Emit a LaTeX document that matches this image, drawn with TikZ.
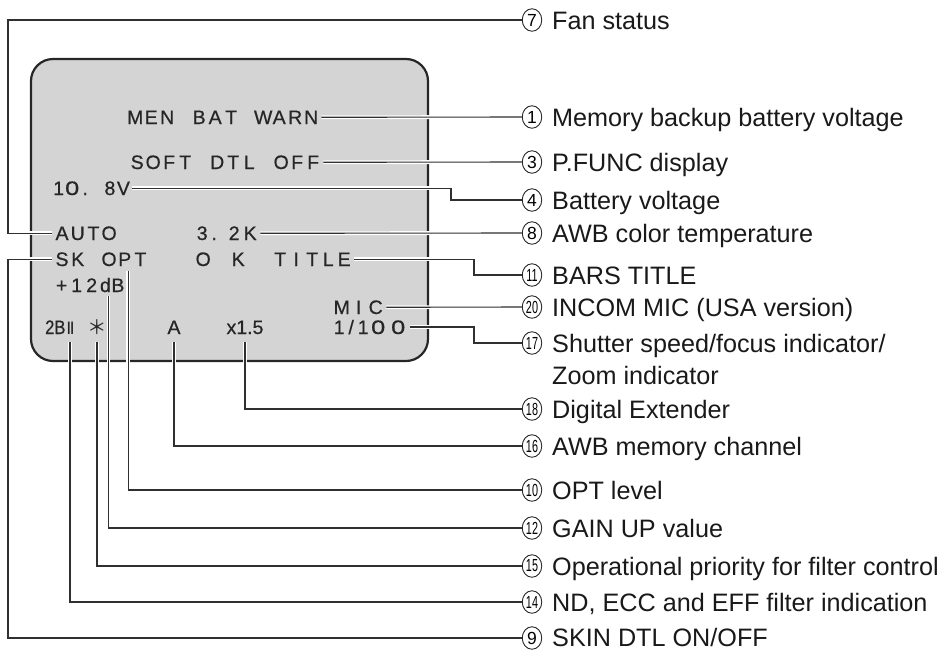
\documentclass[tikz,border=0pt]{standalone}
\usepackage{fontspec}
\setmainfont{Liberation Sans}
\newfontfamily\scrfont[FakeBold=0.6]{Liberation Sans}
\newfontfamily\cjkfont{Noto Sans CJK JP}
\newfontfamily\djfont{DejaVu Sans}
\usetikzlibrary{shapes.geometric}
\ExplSyntaxOn
\NewDocumentCommand\gridtxt{O{16pt}m}{\str_map_inline:nn{#2}{\makebox[#1][c]{##1}}}
\ExplSyntaxOff
\newcommand\wz{\scalebox{1.3}[1]{0}}
\newcommand\cnum[1]{\scalebox{0.62}[1]{#1}}
\definecolor{scr}{HTML}{D4D4D4}
\definecolor{ln}{HTML}{303030}
\tikzset{
 lead/.style={draw=ln, line width=1.1pt, preaction={draw=white, line width=3.8pt}},
 stx/.style={inner xsep=2pt, inner ysep=0pt, anchor=base west, font=\scrfont\fontsize{19.5}{19.5}\selectfont, text=black!85},
 num/.style={ellipse, draw=black!85, line width=0.9pt, minimum width=19.5pt, minimum height=22.5pt, inner sep=0pt, font=\fontsize{17.5}{17.5}\selectfont},
 lbl/.style={anchor=base west, inner sep=0pt, font=\fontsize{25.2}{32}\selectfont, text=black!90},
}
\begin{document}
\begin{tikzpicture}[x=1pt,y=-1pt]
\useasboundingbox (0,0) rectangle (942,651);
% screen
\draw[draw=black!85, line width=2.2pt, fill=scr, rounded corners=22pt] (31,59) rectangle (428,361);
% screen texts
\node[stx] (men) at (125,124) {\gridtxt{MEN BAT WARN}};
\node[stx] (soft) at (127,169) {\gridtxt{SOFT DTL OFF}};
\node[stx] (bv) at (50,195) {\gridtxt[13pt]{1}\makebox[14pt]{\wz}\gridtxt[12pt]{. }\gridtxt[13.5pt]{8V}};
\node[stx] (auto) at (52,240) {\gridtxt[15.7pt]{AUTO}};
\node[stx] (ct) at (192,240) {\gridtxt{3}\gridtxt[8pt]{. }\gridtxt{2K}};
\node[stx] (sk) at (52,266) {\gridtxt[15.7pt]{SK}};
\node[stx] (opt) at (99,266) {\gridtxt[15.7pt]{OPT}};
\node[stx] (ok) at (193,266) {\gridtxt{O}\hspace{19pt}\gridtxt{K}};
\node[stx] (title) at (270,266) {\gridtxt{TITLE}};
\node[stx] (gain) at (52,292) {\gridtxt[15pt]{+12}\gridtxt[12.5pt]{dB}};
\node[stx] (mic) at (331,314) {\gridtxt[17pt]{MIC}};
\node[stx] (sh) at (332,334) {\makebox[10pt]{1}\makebox[14pt]{/}\makebox[10pt]{1}\makebox[20pt]{\wz}\makebox[20pt]{\wz}};
\node[stx] (nd) at (43,334) {\scalebox{0.85}[1]{2B}\hspace{1pt}{\djfont\fontsize{17}{17}\selectfont Ⅱ}};
\node[stx, anchor=base] (pri) at (97,334) {\cjkfont ＊};
\node[stx, anchor=base] (awb) at (174,334) {A};
\node[stx, anchor=base] (dext) at (245,334) {x1.5};
% circled numbers and labels
\node[num] (c7) at (532,20) {7};
\node[lbl] (t7) at (552,29) {Fan status};
\node[num] (c1) at (532,117) {1};
\node[lbl] (t1) at (552,126) {Memory backup battery voltage};
\node[num] (c3) at (532,162) {3};
\node[lbl] (t3) at (552,171) {P.FUNC display};
\node[num] (c4) at (532,200) {4};
\node[lbl] (t4) at (552,209) {Battery voltage};
\node[num] (c8) at (532,233) {8};
\node[lbl] (t8) at (552,242) {AWB color temperature};
\node[num] (c11) at (532,275) {\cnum{11}};
\node[lbl] (t11) at (552,284) {BARS TITLE};
\node[num] (c20) at (532,307) {\cnum{20}};
\node[lbl] (t20) at (552,316) {INCOM MIC (USA version)};
\node[num] (c17) at (532,343) {\cnum{17}};
\node[lbl, align=left] (t17) at (552,384) {Shutter speed/focus indicator/\\Zoom indicator};
\node[num] (c18) at (532,409) {\cnum{18}};
\node[lbl] (t18) at (552,418) {Digital Extender};
\node[num] (c16) at (532,446) {\cnum{16}};
\node[lbl] (t16) at (552,455) {AWB memory channel};
\node[num] (c10) at (532,490) {\cnum{10}};
\node[lbl] (t10) at (552,499) {OPT level};
\node[num] (c12) at (532,528) {\cnum{12}};
\node[lbl] (t12) at (552,537) {GAIN UP value};
\node[num] (c15) at (532,566) {\cnum{15}};
\node[lbl] (t15) at (552,575) {Operational priority for filter control};
\node[num] (c14) at (532,602) {\cnum{14}};
\node[lbl] (t14) at (552,611) {ND, ECC and EFF filter indication};
\node[num] (c9) at (532,638) {9};
\node[lbl] (t9) at (552,646.5) {SKIN DTL ON/OFF};
% connectors
\draw[lead] (auto.west) -| (8,20) -- (c7.west);
\draw[lead] (men.east) -- (c1.west);
\draw[lead] (soft.east) -- (c3.west);
\draw[lead] (bv.east) -| (451,200) -- (c4.west);
\draw[lead] (ct.east) -- (c8.west);
\draw[lead] (title.east) -| (474,275) -- (c11.west);
\draw[lead] (mic.east) -- (c20.west);
\draw[lead] (sh.east) -| (474,343) -- (c17.west);
\draw[lead] ([yshift=-8pt]dext.base) |- (c18.west);
\draw[lead] ([yshift=-8pt]awb.base) |- (c16.west);
\draw[lead] ([xshift=3.5pt,yshift=-5pt]opt.south) |- (c10.west);
\draw[lead] ([xshift=-18pt,yshift=-4pt]gain.south east) |- (c12.west);
\draw[lead] ([yshift=-8pt]pri.base) |- (c15.west);
\draw[lead] ([xshift=27pt,yshift=-8pt]nd.base west) |- (c14.west);
\draw[lead] (sk.west) -| (8,638) -- (c9.west);
\end{tikzpicture}
\end{document}
